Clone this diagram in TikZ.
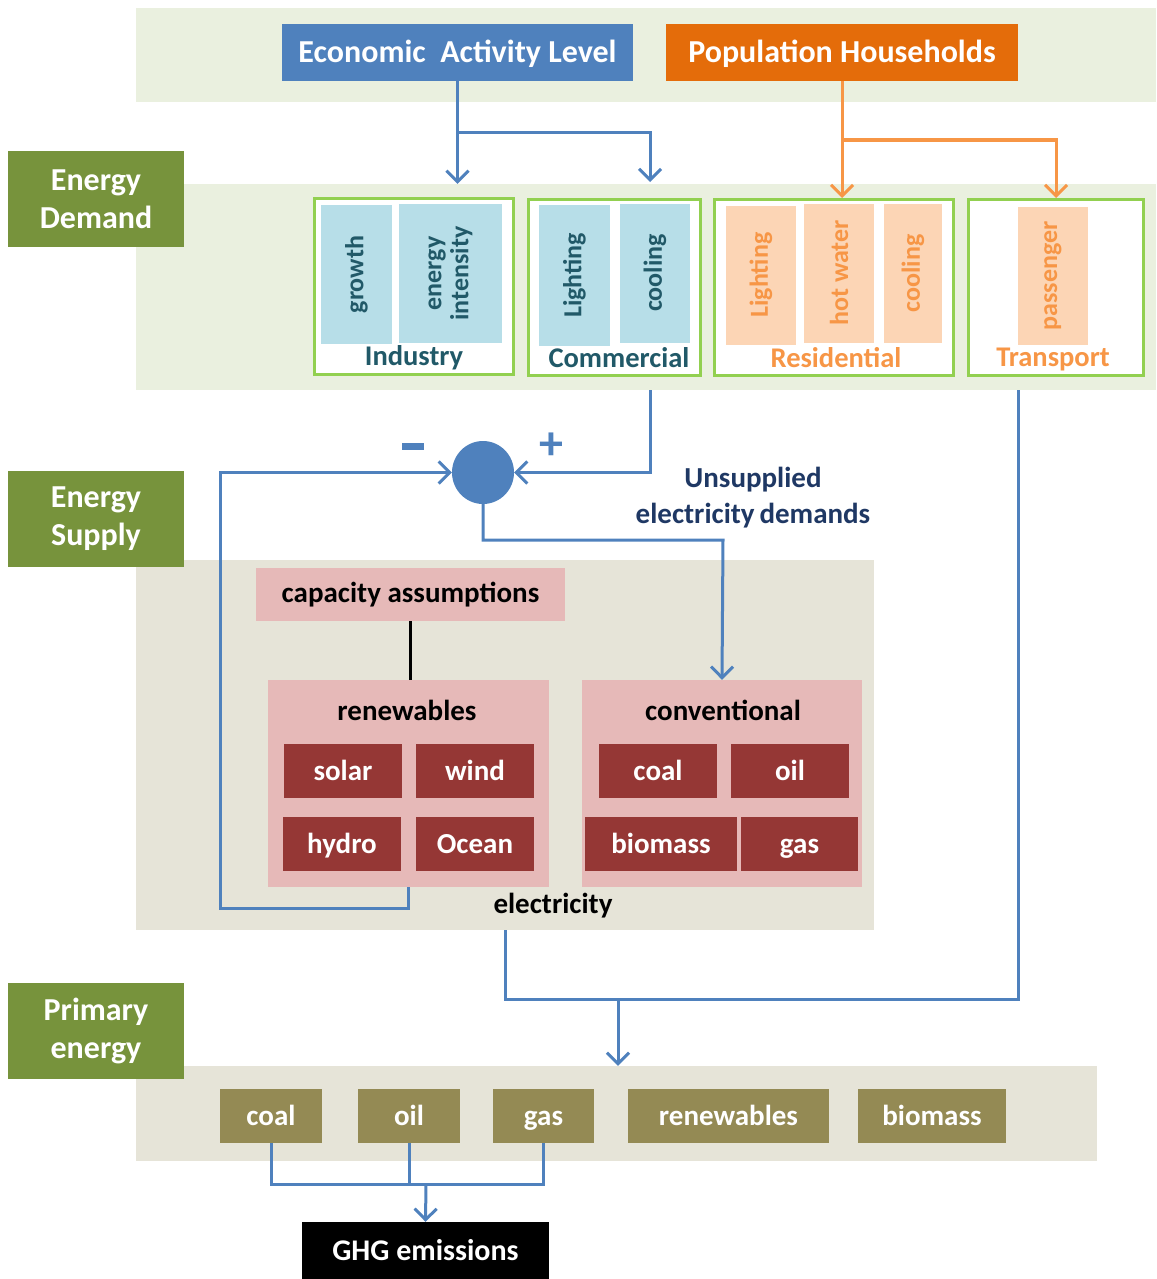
\documentclass[tikz,border=0pt]{standalone}
\usepackage{fontspec}
\setmainfont{Carlito}
\usetikzlibrary{arrows.meta, positioning, calc, shapes.geometric}
\definecolor{bandgreen}{RGB}{234, 240, 223}
\definecolor{bandgray}{RGB}{230, 228, 216}
\definecolor{headgreen}{RGB}{119, 147, 60}
\definecolor{econblue}{RGB}{79, 129, 189}
\definecolor{poporange}{RGB}{228, 108, 10}
\definecolor{lineorange}{RGB}{247, 150, 70}
\definecolor{tileblue}{RGB}{183, 222, 232}
\definecolor{tealtext}{RGB}{33, 89, 104}
\definecolor{tilepeach}{RGB}{252, 213, 181}
\definecolor{framegreen}{RGB}{146, 208, 80}
\definecolor{capink}{RGB}{230, 185, 184}
\definecolor{plantred}{RGB}{149, 55, 53}
\definecolor{fuelolive}{RGB}{148, 138, 84}
\definecolor{navytext}{RGB}{31, 56, 100}

\tikzset{
  band/.style={fill=#1, draw=none, inner sep=0pt},
  sidehead/.style={fill=headgreen, text=white, inner sep=0pt, minimum width=176pt, minimum height=96pt, align=center, font=\fontsize{32}{38}\selectfont\bfseries},
  driver/.style={fill=#1, text=white, inner sep=0pt, minimum height=57pt, text height=23pt, text depth=3pt, font=\fontsize{32}{38}\selectfont\bfseries},
  sector/.style={draw=framegreen, line width=3pt, fill=white, inner sep=0pt, minimum height=176pt},
  sectorname/.style={text=#1, inner sep=0pt, font=\fontsize{28.5}{34}\selectfont\bfseries},
  enduse/.style={fill=#1, rotate=90, inner sep=0pt, align=center, minimum height=70pt, minimum width=139pt, font=\fontsize{26}{27}\selectfont\bfseries},
  pinkbox/.style={fill=capink, inner sep=0pt, font=\fontsize{29}{34}\selectfont\bfseries},
  plant/.style={fill=plantred, text=white, inner sep=0pt, minimum width=118pt, minimum height=54pt, text height=21pt, text depth=2pt, font=\fontsize{29}{34}\selectfont\bfseries},
  fuel/.style={fill=fuelolive, text=white, inner sep=0pt, minimum height=54pt, text height=21pt, text depth=2pt, font=\fontsize{29}{34}\selectfont\bfseries},
  flow/.style={draw=#1, line width=3pt},
  tip/.style={-{Straight Barb[length=11pt, width=22pt]}}
}

\begin{document}
\begin{tikzpicture}[x=1pt, y=-1pt]
  \useasboundingbox (0,0) rectangle (1156,1279);

  % bands
  \node[band=bandgreen, minimum width=1020pt, minimum height=94pt] (drivers) at (646,55) {};
  \node[band=bandgreen, minimum width=1020pt, minimum height=206pt] (demand) at (646,287) {};
  \node[band=bandgray, minimum width=738pt, minimum height=370pt] (supply) at (505,745) {};
  \node[band=bandgray, minimum width=961pt, minimum height=95pt] (primary) at (616.5,1113.5) {};

  % side headings
  \node[sidehead] (demandhead) at (96,199) {Energy\\Demand};
  \node[sidehead] (supplyhead) at (96,519) {Energy\\Supply};
  \node[sidehead] (primaryhead) at (96,1031) {Primary\\energy};

  % drivers
  \node[driver=econblue, minimum width=351pt] (econ) at (457.5,52.5) {Economic~ Activity Level};
  \node[driver=poporange, minimum width=352pt] (pop) at (842,52.5) {Population Households};

  % Industry
  \node[sector, minimum width=199pt] (industry) at (414,286.5) {};
  \node[enduse=tileblue, text=tealtext, minimum height=71pt] (growth) at (356.5,274.5) {growth};
  \node[enduse=tileblue, text=tealtext, minimum height=103pt] (intensity) at (450.5,273.5) {energy\\intensity};
  \node[sectorname=tealtext] (indname) at (414,358) {Industry};

  % Commercial
  \node[sector, minimum width=172pt] (commercial) at (614.5,287.5) {};
  \node[enduse=tileblue, text=tealtext, minimum height=71pt, minimum width=141pt] (comlight) at (574.5,275.5) {Lighting};
  \node[enduse=tileblue, text=tealtext] (comcool) at (655,273) {cooling};
  \node[sectorname=tealtext] (comname) at (619,358) {Commercial};

  % Residential
  \node[sector, minimum width=239pt] (residential) at (834,287.5) {};
  \node[enduse=tilepeach, text=lineorange] (reslight) at (761,275) {Lighting};
  \node[enduse=tilepeach, text=lineorange] (reswater) at (839,273) {hot water};
  \node[enduse=tilepeach, text=lineorange, minimum height=58pt] (rescool) at (913,273.5) {cooling};
  \node[sectorname=lineorange] (resname) at (836,358) {Residential};

  % Transport
  \node[sector, minimum width=175pt] (transport) at (1056,287.5) {};
  \node[enduse=tilepeach, text=lineorange, minimum width=138pt] (passenger) at (1053,276) {passenger};
  \node[sectorname=lineorange] (transname) at (1053,359) {Transport};

  % drivers -> sectors
  \coordinate (econsplit) at (458,133);
  \coordinate (comin) at (650,182);
  \draw[flow=econblue, tip] (econ.south) -- (econ.south |- demand.north);
  \draw[flow=econblue, tip] (econsplit) -| (comin);
  \coordinate (popsplit) at (842,140);
  \draw[flow=lineorange, tip] (pop.south) -- (pop.south |- residential.north);
  \draw[flow=lineorange, tip] (popsplit) -| (transport.north);

  % balance
  \node[ellipse, fill=econblue, minimum width=62pt, minimum height=63pt, inner sep=0pt] (balance) at (483,472.5) {};
  \node[text=econblue, inner sep=0pt] (minus) at (413,446) {\rule{22pt}{7pt}};
  \node[text=econblue, inner sep=0pt, font=\fontsize{48}{48}\selectfont\bfseries] (plus) at (551,446) {+};
  \node[text=navytext, align=center, font=\fontsize{29}{36}\selectfont\bfseries] (unsupplied) at (753,498) {Unsupplied\\electricity\,demands};

  % supply side
  \node[pinkbox, minimum width=309pt, minimum height=53pt] (capacity) at (410.5,594.5) {capacity assumptions};
  \node[pinkbox, minimum width=281pt, minimum height=207pt] (renew) at (408.5,783.5) {};
  \node[font=\fontsize{29}{34}\selectfont\bfseries] (renewname) at (407,710) {renewables};
  \node[plant] (solar) at (343,771) {solar};
  \node[plant] (wind) at (475,771) {wind};
  \node[plant] (hydro) at (342,844) {hydro};
  \node[plant] (ocean) at (475,844) {Ocean};
  \node[pinkbox, minimum width=280pt, minimum height=207pt] (conv) at (722,783.5) {};
  \node[font=\fontsize{29}{34}\selectfont\bfseries] (convname) at (723,710) {conventional};
  \node[plant] (coal) at (658,771) {coal};
  \node[plant] (oil) at (790,771) {oil};
  \node[plant, minimum width=152pt] (biomass) at (661,844) {biomass};
  \node[plant, minimum width=117pt] (gas) at (799.5,844) {gas};
  \node[font=\fontsize{29}{34}\selectfont\bfseries] (electricity) at (553,906) {electricity};

  \draw[line width=3pt] (capacity.south) -- (capacity.south |- renew.north);

  % feedback loop
  \draw[flow=econblue, tip] (comin |- demand.south) |- (balance.east);
  \coordinate (loopcorner) at (220,908);
  \draw[flow=econblue, tip] (renew.south) |- (loopcorner) |- (balance.west);
  \coordinate (convturn) at (723,540);
  \draw[flow=econblue, tip] (balance.south) |- (convturn) -- (conv.north);

  % to primary energy
  \coordinate (elecdrop) at (505,999);
  \coordinate (transdrop) at (1018,999);
  \coordinate (primjoin) at (618,999);
  \draw[flow=econblue] (elecdrop |- supply.south) -- (elecdrop) -- (transdrop) -- (transdrop |- demand.south);
  \draw[flow=econblue, tip] (primjoin) -- (primjoin |- primary.north);

  % primary fuels
  \node[fuel, minimum width=102pt] (pcoal) at (271,1116) {coal};
  \node[fuel, minimum width=102pt] (poil) at (409,1116) {oil};
  \node[fuel, minimum width=101pt] (pgas) at (543.5,1116) {gas};
  \node[fuel, minimum width=201pt] (prenew) at (728.5,1116) {renewables};
  \node[fuel, minimum width=148pt] (pbiomass) at (932,1116) {biomass};

  \node[fill=black, text=white, inner sep=0pt, minimum width=247pt, minimum height=57pt, font=\fontsize{30}{34}\selectfont\bfseries] (ghg) at (425.5,1250.5) {GHG emissions};

  \coordinate (ghgjoin) at (426,1184);
  \draw[flow=econblue] (pcoal.south) |- (ghgjoin) -| (pgas.south);
  \draw[flow=econblue] (poil.south) -- (poil.south |- ghgjoin);
  \draw[flow=econblue, tip] (ghgjoin) -- (ghg.north);
\end{tikzpicture}
\end{document}
